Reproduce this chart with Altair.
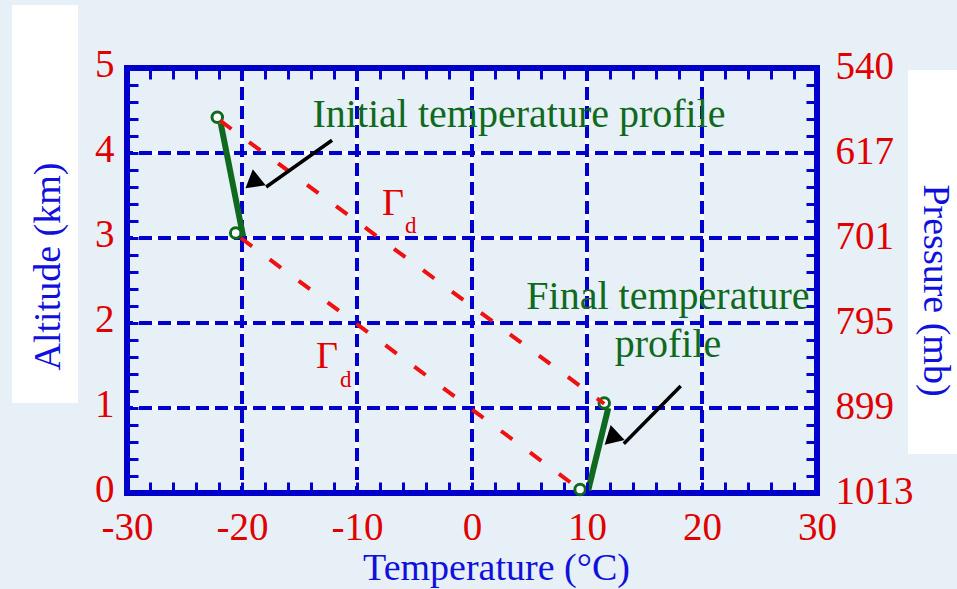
import json
import altair as alt
import pandas as pd

# ---------------- data ----------------
x_ticks = [-30, -20, -10, 0, 10, 20, 30]
x_tick_labels = ["-30", "-20", "-10", "0", "10", "20", "30"]
y_ticks = [0, 1, 2, 3, 4, 5]
pressure_labels = ["1013", "899", "795", "701", "617", "540"]
x_minor = list(range(-30, 31, 2))
y_minor = [i / 5 for i in range(0, 26)]
x_grid = [-20, -10, 0, 10, 20]
y_grid = [1, 2, 3, 4]

profile_name = ["Initial", "Initial", "Final", "Final"]
profile_temp = [-21.85, -19.9, 10.1, 11.85]
profile_alt = [4.35, 3.02, 0.03, 1.0]

circle_temp = [-22.15, -20.55, 9.4, 11.5]
circle_alt = [4.42, 3.06, 0.04, 1.06]

adiabat_name = ["upper", "upper", "lower", "lower"]
adiabat_temp = [-21.9, 11.5, -20.1, 9.4]
adiabat_alt = [4.38, 1.05, 3.0, 0.04]

arrow_name = ["a1", "a1", "a2", "a2"]
arrow_temp = [-12.17, -17.9, 18.15, 13.2]
arrow_alt = [4.15, 3.6, 1.26, 0.58]
head_name = ["a1", "a2"]
head_temp = [-19.1, 12.1]
head_alt = [3.65, 0.64]

note_text = ["Initial temperature profile", "Final temperature\nprofile"]
note_temp = [4.09, 17.04]
note_alt = [4.31, 2.17]

gamma_text = ["\u0393", "\u0393"]
gamma_temp = [-7.83, -13.57]
gamma_alt = [3.27, 1.47]
sub_text = ["d", "d"]
sub_temp = [-5.83, -11.48]
sub_alt = [3.06, 1.25]

# ---------------- style ----------------
RED = "#e00000"
LRED = "#f01010"
BLUE = "#0000cc"
TBLUE = "#1010dd"
GREEN = "#0f6a20"
FONT = "Liberation Serif"

xs = alt.Scale(domain=[-30, 30], nice=False, zero=False)
ys = alt.Scale(domain=[0, 5], nice=False, zero=False)

x_label_expr = f"{json.dumps(x_tick_labels)}[indexof({json.dumps(x_ticks)}, datum.value)]"
p_label_expr = f"{json.dumps(pressure_labels)}[indexof({json.dumps(y_ticks)}, round(datum.value))]"

axis_x_labels = alt.Axis(
    orient="bottom", values=x_ticks, labelExpr=x_label_expr,
    labelColor=RED, labelFont=FONT, labelFontSize=39, labelPadding=15,
    labelFlush=False, labelOverlap=False, labelBound=False,
    ticks=False, domain=False, grid=False,
    title="Temperature (°C)", titleColor=TBLUE, titleFont=FONT, titleFontSize=38,
    titleFontWeight="normal", titleX=369, titleY=86, titleAlign="center",
    titleBaseline="alphabetic", titleAngle=0, zindex=1,
)
axis_y_labels = alt.Axis(
    orient="left", values=y_ticks,
    labelColor=RED, labelFont=FONT, labelFontSize=39, labelPadding=13,
    labelBaseline="middle", labelOffset=-4, labelFlush=False, labelOverlap=False,
    labelBound=False,
    ticks=False, domain=False, grid=False,
    title="Altitude (km)", titleColor=TBLUE, titleFont=FONT, titleFontSize=38,
    titleFontWeight="normal", titleAngle=270, titleX=-79, titleY=198,
    titleAlign="center", titleBaseline="middle", zindex=1,
)
axis_y_right = alt.Axis(
    orient="right", values=y_ticks, labelExpr=p_label_expr,
    labelColor=RED, labelFont=FONT, labelFontSize=39, labelPadding=18,
    labelBaseline="middle", labelAlign="left", labelOffset=-2, labelFlush=False,
    labelOverlap=False, labelBound=False,
    ticks=False, domain=False, grid=False,
    title="Pressure (mb)", titleColor=TBLUE, titleFont=FONT, titleFontSize=38,
    titleFontWeight="normal", titleAngle=90, titleX=117, titleY=222,
    titleAlign="center", titleBaseline="middle", zindex=1,
)


def tick_axis(orient, values):
    return alt.Axis(
        orient=orient, values=values, offset=-11, tickSize=11, tickWidth=3,
        tickColor=BLUE, labels=False, domain=False, grid=False, title=None,
        zindex=1,
    )


# ---------------- layers ----------------
box_left = alt.Chart(alt.Data(values=[{}])).mark_rect(color="white").encode(
    x=alt.value(-115), x2=alt.value(-49), y=alt.value(-63), y2=alt.value(335)
)
box_right = alt.Chart(alt.Data(values=[{}])).mark_rect(color="white").encode(
    x=alt.value(781), x2=alt.value(840), y=alt.value(2), y2=alt.value(386)
)

df_xg = pd.DataFrame({"t": x_grid})
df_yg = pd.DataFrame({"a": y_grid})

grid_x_white = alt.Chart(df_xg).mark_rule(color="white", strokeWidth=4).encode(
    x=alt.X("t:Q", scale=xs, axis=axis_x_labels)
)
grid_y_white = alt.Chart(df_yg).mark_rule(color="white", strokeWidth=4).encode(
    y=alt.Y("a:Q", scale=ys, axis=axis_y_labels)
)
grid_x_blue = alt.Chart(df_xg).mark_rule(color=BLUE, strokeWidth=4, strokeDash=[13, 6]).encode(
    x=alt.X("t:Q", scale=xs, axis=tick_axis("bottom", x_minor))
)
grid_y_blue = alt.Chart(df_yg).mark_rule(color=BLUE, strokeWidth=4, strokeDash=[13, 6]).encode(
    y=alt.Y("a:Q", scale=ys, axis=tick_axis("left", y_minor))
)

df_prof = pd.DataFrame({"name": profile_name, "t": profile_temp, "a": profile_alt})
profiles = alt.Chart(df_prof).mark_line(color=GREEN, strokeWidth=6, strokeCap="butt").encode(
    x=alt.X("t:Q", scale=xs, axis=tick_axis("top", x_minor)),
    y=alt.Y("a:Q", scale=ys, axis=tick_axis("right", y_minor)),
    detail="name:N",
)

df_circ = pd.DataFrame({"t": circle_temp, "a": circle_alt})
circles = alt.Chart(df_circ).mark_point(
    shape="circle", size=110, filled=True, fill="white", stroke=GREEN,
    strokeWidth=3, opacity=1,
).encode(
    x=alt.X("t:Q", scale=xs, axis=None),
    y=alt.Y("a:Q", scale=ys, axis=axis_y_right),
)

df_adi = pd.DataFrame({"name": adiabat_name, "t": adiabat_temp, "a": adiabat_alt})
adiabats = alt.Chart(df_adi).mark_line(color=LRED, strokeWidth=4, strokeDash=[14, 22]).encode(
    x=alt.X("t:Q", scale=xs, axis=None),
    y=alt.Y("a:Q", scale=ys, axis=None),
    detail="name:N",
)

df_arrow = pd.DataFrame({"name": arrow_name, "t": arrow_temp, "a": arrow_alt})
arrows = alt.Chart(df_arrow).mark_line(color="black", strokeWidth=3.5).encode(
    x=alt.X("t:Q", scale=xs, axis=None),
    y=alt.Y("a:Q", scale=ys, axis=None),
    detail="name:N",
)

df_head = pd.DataFrame({"name": head_name, "t": head_temp, "a": head_alt})
head1 = alt.Chart(df_head).transform_filter(alt.datum.name == "a1").mark_point(
    shape="triangle-up", filled=True, color="black", size=420, angle=231, opacity=1
).encode(x=alt.X("t:Q", scale=xs, axis=None), y=alt.Y("a:Q", scale=ys, axis=None))
head2 = alt.Chart(df_head).transform_filter(alt.datum.name == "a2").mark_point(
    shape="triangle-up", filled=True, color="black", size=420, angle=227, opacity=1
).encode(x=alt.X("t:Q", scale=xs, axis=None), y=alt.Y("a:Q", scale=ys, axis=None))

df_note = pd.DataFrame({"txt": note_text, "t": note_temp, "a": note_alt})
notes = alt.Chart(df_note).mark_text(
    color=GREEN, font=FONT, fontSize=40, align="center", baseline="alphabetic",
    lineBreak="\n", lineHeight=48,
).encode(
    x=alt.X("t:Q", scale=xs, axis=None),
    y=alt.Y("a:Q", scale=ys, axis=None),
    text="txt:N",
)

df_gam = pd.DataFrame({"txt": gamma_text, "t": gamma_temp, "a": gamma_alt})
gammas = alt.Chart(df_gam).mark_text(
    color=RED, font=FONT, fontSize=38, align="left", baseline="alphabetic"
).encode(
    x=alt.X("t:Q", scale=xs, axis=None),
    y=alt.Y("a:Q", scale=ys, axis=None),
    text="txt:N",
)

df_sub = pd.DataFrame({"txt": sub_text, "t": sub_temp, "a": sub_alt})
subs = alt.Chart(df_sub).mark_text(
    color=RED, font=FONT, fontSize=23, align="left", baseline="alphabetic"
).encode(
    x=alt.X("t:Q", scale=xs, axis=None),
    y=alt.Y("a:Q", scale=ys, axis=None),
    text="txt:N",
)

chart = (
    alt.layer(
        box_left, box_right,
        grid_x_white, grid_y_white, grid_x_blue, grid_y_blue,
        profiles, circles, adiabats, arrows, head1, head2,
        notes, gammas, subs,
    )
    .resolve_axis(x="independent", y="independent")
    .properties(
        width=690, height=425,
        autosize=alt.AutoSizeParams(type="none"),
        padding={"left": 127, "top": 68, "right": 140, "bottom": 96},
    )
    .configure(background="#e6f0f6")
    .configure_view(stroke=BLUE, strokeWidth=6)
)

chart.save("out.html", embed_options={"renderer": "svg", "actions": False})
